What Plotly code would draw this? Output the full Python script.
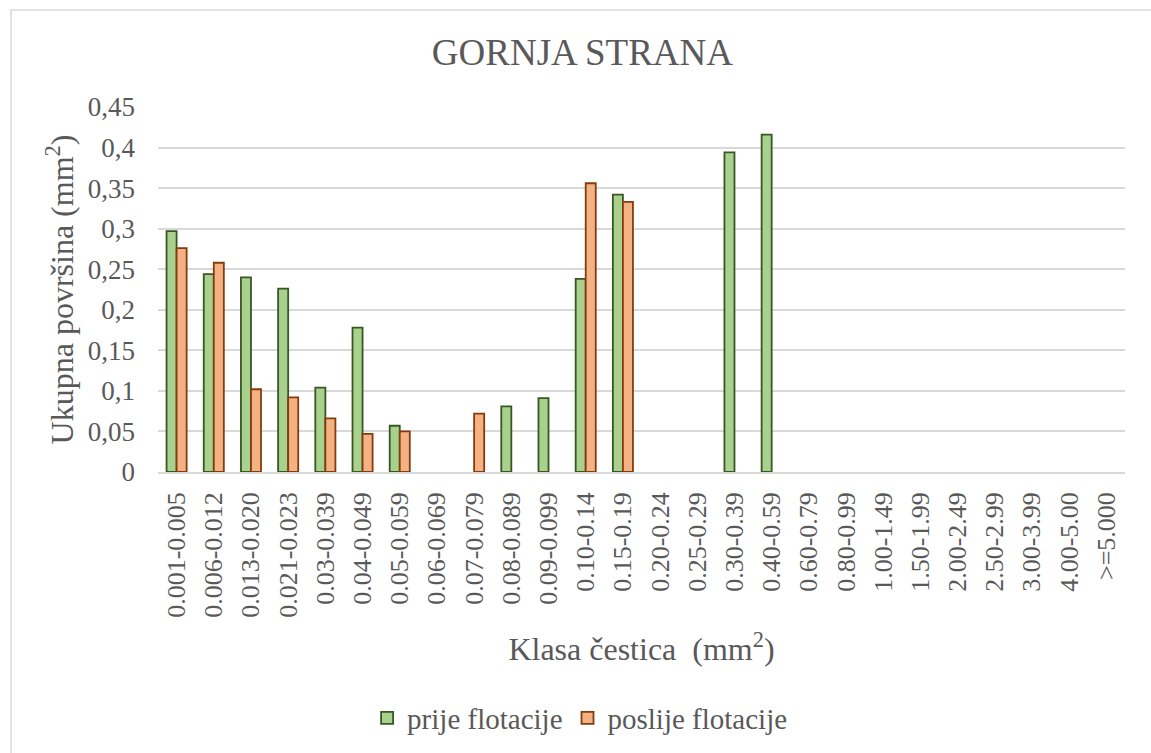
import plotly.graph_objects as go

categories = ["0.001-0.005", "0.006-0.012", "0.013-0.020", "0.021-0.023", "0.03-0.039",
              "0.04-0.049", "0.05-0.059", "0.06-0.069", "0.07-0.079", "0.08-0.089",
              "0.09-0.099", "0.10-0.14", "0.15-0.19", "0.20-0.24", "0.25-0.29",
              "0.30-0.39", "0.40-0.59", "0.60-0.79", "0.80-0.99", "1.00-1.49",
              "1.50-1.99", "2.00-2.49", "2.50-2.99", "3.00-3.99", "4.00-5.00", ">=5.000"]

prije_flotacije = [0.297, 0.244, 0.240, 0.226, 0.104, 0.178, 0.057, None, None, 0.081,
                   0.091, 0.238, 0.342, None, None, 0.394, 0.416, None, None, None,
                   None, None, None, None, None, None]

poslije_flotacije = [0.276, 0.258, 0.102, 0.092, 0.066, 0.047, 0.050, None, 0.072, None,
                     None, 0.356, 0.333, None, None, None, None, None, None, None,
                     None, None, None, None, None, None]

y_ticks = [0, 0.05, 0.1, 0.15, 0.2, 0.25, 0.3, 0.35, 0.4, 0.45]

FONT = "Liberation Serif"
TXT = "#595959"

fig = go.Figure()
fig.add_trace(go.Bar(
    x=categories, y=prije_flotacije, name="prije flotacije",
    marker=dict(color="#a9d18e", line=dict(color="#385723", width=1.8)),
))
fig.add_trace(go.Bar(
    x=categories, y=poslije_flotacije, name="poslije flotacije",
    marker=dict(color="#f4b183", line=dict(color="#843c0c", width=1.8)),
))

fig.update_layout(
    width=1151, height=753,
    paper_bgcolor="white", plot_bgcolor="white",
    separators=",.",
    barmode="group", bargap=0.46, bargroupgap=0,
    margin=dict(l=158, r=26, t=107, b=281, autoexpand=False),
    font=dict(family=FONT, color=TXT, size=26),
    title=dict(text="GORNJA STRANA", x=0.506, xref="container", xanchor="center",
               y=1 - 52 / 753, yref="container", yanchor="middle",
               font=dict(family=FONT, size=37, color=TXT)),
    xaxis=dict(
        type="category", tickangle=-90, tickfont=dict(family=FONT, size=26),
        showgrid=False, showline=True, linecolor="#d9d9d9", linewidth=1.5,
        ticks="", ticklabelstandoff=8,
        title=dict(text="Klasa čestica&nbsp;&nbsp;(mm<sup>2</sup>)",
                   font=dict(family=FONT, size=32), standoff=21),
    ),
    yaxis=dict(
        range=[0, 0.45], tickvals=y_ticks,
        showgrid=True, gridcolor="#d9d9d9", gridwidth=1.5,
        zeroline=False, showline=False, ticks="", ticklabelstandoff=22,
        tickfont=dict(family=FONT, size=27),
        title=dict(text="Ukupna površina (mm<sup>2</sup>)",
                   font=dict(family=FONT, size=32), standoff=4),
    ),
    legend=dict(orientation="h", x=0.436, xanchor="center", y=-0.674, yanchor="middle",
                font=dict(family=FONT, size=29), traceorder="normal", itemwidth=30),
    shapes=[dict(type="rect", xref="paper", yref="paper",
                 x0=-0.152, x1=1.3, y0=-2.0, y1=1 + 97 / 365,
                 line=dict(color="#d9d9d9", width=1.5), fillcolor="rgba(0,0,0,0)",
                 layer="below")],
)

fig.write_html("out.html", config={"displayModeBar": False},
               post_script="document.body.style.margin='0';")
